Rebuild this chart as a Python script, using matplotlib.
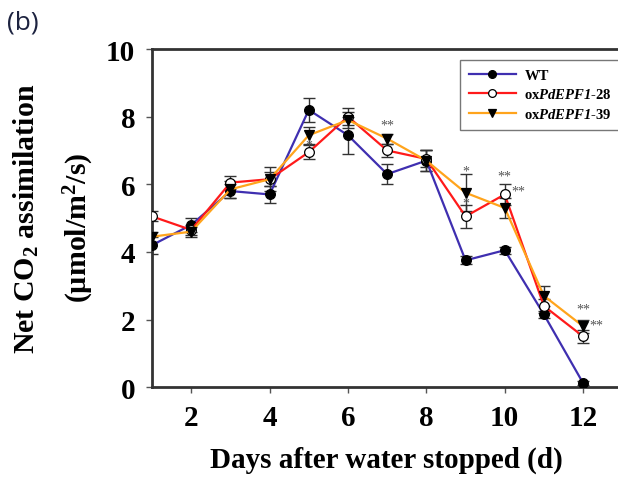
import matplotlib
matplotlib.use("Agg")
import matplotlib.pyplot as plt

# --- data ---
days = [1, 2, 3, 4, 5, 6, 7, 8, 9, 10, 11, 12]
wt = [4.2, 4.8, 5.8, 5.7, 8.2, 7.45, 6.3, 6.7, 3.75, 4.05, 2.15, 0.12]
wt_err = [0.25, 0.2, 0.2, 0.25, 0.35, 0.55, 0.3, 0.3, 0.12, 0.1, 0.1, 0.05]
ox28 = [5.05, 4.65, 6.05, 6.15, 6.95, 8.0, 7.0, 6.75, 5.05, 5.7, 2.4, 1.5]
ox28_err = [0.15, 0.15, 0.2, 0.2, 0.2, 0.25, 0.2, 0.25, 0.35, 0.3, 0.2, 0.2]
ox39 = [4.45, 4.6, 5.85, 6.15, 7.45, 7.9, 7.35, 6.7, 5.75, 5.3, 2.7, 1.8]
ox39_err = [0.15, 0.15, 0.25, 0.35, 0.25, 0.25, 0.15, 0.3, 0.55, 0.3, 0.3, 0.2]

# significance marks: (day, value, text)
stars = [(5, 7.15, "*"), (7, 7.75, "**"), (9, 6.4, "*"), (9, 5.45, "*"),
         (10, 6.25, "**"), (10.35, 5.8, "**"), (12, 2.3, "**"), (12.35, 1.85, "**")]

BLUE, RED, ORANGE = "#3f2fb0", "#ff1a1a", "#ffa41c"
SERIF = "Liberation Serif"

# mathtext: bold serif for sub/superscripts, bold italic for the gene name
# (digits inside \mathit fall back to "rm", so rm is italic too)
plt.rcParams.update({
    "mathtext.fontset": "custom",
    "mathtext.rm": "Liberation Serif:style=italic:weight=bold",
    "mathtext.bf": "Liberation Serif:weight=bold",
    "mathtext.it": "Liberation Serif:style=italic:weight=bold",
    "mathtext.default": "bf",
})

fig = plt.figure(figsize=(6.18, 4.81), dpi=100)
ax = fig.add_axes([0.246, 0.193, 0.773, 0.703])

series = [
    (wt, wt_err, BLUE, "o", "black", "WT"),
    (ox28, ox28_err, RED, "o", "white", r"ox$\mathit{PdEPF1}$-28"),
    (ox39, ox39_err, ORANGE, "v", "black", r"ox$\mathit{PdEPF1}$-39"),
]
for vals, err, color, mk, face, label in series:
    ax.errorbar(days, vals, yerr=err, fmt="none", ecolor="#333333",
                elinewidth=1.0, capsize=4, capthick=1.0, zorder=2)
    ax.plot(days, vals, color=color, lw=1.6, marker=mk, markersize=7,
            markerfacecolor=face, markeredgecolor="black", markeredgewidth=0.9,
            label=label, zorder=3)

for x, y, s in stars:
    ax.text(x, y, s, ha="center", va="center", fontsize=10, color="#555555",
            family=SERIF)

ax.set_xlim(1, 13.19)
ax.set_ylim(0, 10)
ax.set_xticks([2, 4, 6, 8, 10, 12])
ax.set_yticks([0, 2, 4, 6, 8, 10])
for sp in ax.spines.values():
    sp.set_linewidth(2.0)
    sp.set_color("#333333")
ax.tick_params(direction="out", length=4, width=1, color="#555555", pad=8,
               labelsize=21)
for lab in ax.get_xticklabels() + ax.get_yticklabels():
    lab.set_family(SERIF)
    lab.set_fontweight("bold")

leg = ax.legend(loc="upper left", bbox_to_anchor=(0.63, 0.99),
                prop={"family": SERIF, "weight": "bold", "size": 10.5},
                frameon=True, fancybox=False, edgecolor="#555555",
                handlelength=3.2, borderpad=0.6, labelspacing=0.4,
                handletextpad=0.6, markerscale=0.8)
leg.get_frame().set_linewidth(1.0)

fig.text(0.625, 0.042, "Days after water stopped (d)", ha="center", va="center",
         family=SERIF, fontweight="bold", fontsize=21)
fig.text(0.042, 0.545, r"Net CO$_2$ assimilation", rotation=90,
         ha="center", va="center", family=SERIF, fontweight="bold", fontsize=21.5)
fig.text(0.128, 0.527, "(\u00b5mol/m$^2$/s)", rotation=90,
         ha="center", va="center", family=SERIF, fontweight="bold", fontsize=21.5)
fig.text(0.012, 0.953, "(b)", ha="left", va="center", fontsize=19,
         color="#1d2340", family="Open Sans")

fig.savefig("out.png", dpi=100)
